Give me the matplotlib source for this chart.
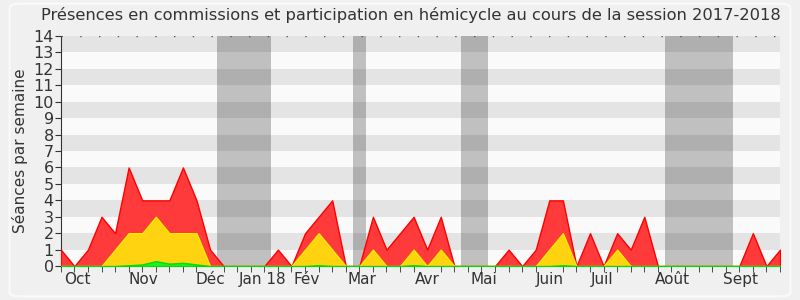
import numpy as np
import matplotlib
matplotlib.use("Agg")
from matplotlib import pyplot as plt
from matplotlib.patches import FancyBboxPatch

# one value per week of the session
total = [1, 0, 1, 3, 2, 6, 4, 4, 4, 6, 4, 1, 0, 0, 0, 0, 1, 0, 2, 3,
         4, 0, 0, 3, 1, 2, 3, 1, 3, 0, 0, 0, 0, 1, 0, 1, 4, 4, 0, 2,
         0, 2, 1, 3, 0, 0, 0, 0, 0, 0, 0, 2, 0, 1]
hemicycle = [0, 0, 0, 0, 1, 2, 2, 3, 2, 2, 2, 0, 0, 0, 0, 0, 0, 0, 1, 2,
             1, 0, 0, 1, 0, 0, 1, 0, 1, 0, 0, 0, 0, 0, 0, 0, 1, 2, 0, 0,
             0, 1, 0, 0, 0, 0, 0, 0, 0, 0, 0, 0, 0, 0]
commission = [0, 0, 0, 0, 0, 0.05, 0.1, 0.3, 0.15, 0.2, 0.1, 0, 0, 0, 0, 0, 0, 0, 0, 0.05,
              0, 0, 0, 0, 0, 0, 0.05, 0, 0, 0, 0, 0, 0, 0, 0, 0, 0, 0.05, 0, 0,
              0, 0, 0, 0, 0, 0, 0, 0, 0, 0, 0, 0, 0, 0]

vacances = [(11.5, 15.5), (21.5, 22.5), (29.5, 31.5), (44.5, 49.5)]
mois = ["Oct", "Nov", "Déc", "Jan 18", "Fév", "Mar", "Avr", "Mai", "Juin", "Juil", "Août", "Sept"]
mois_pos = [1.2, 6.05, 11.0, 14.9, 18.15, 22.2, 27.0, 31.2, 36.0, 39.9, 45.1, 50.1]

weeks = np.arange(len(total))

fig = plt.figure(figsize=(8, 3), dpi=100, facecolor="#f0f0f0")
fig.patches.append(FancyBboxPatch((0.012, 0.012), 0.976, 0.976, boxstyle="round,pad=0,rounding_size=0.015",
                                  transform=fig.transFigure, facecolor="#f0f0f0", edgecolor="#fafafa",
                                  linewidth=1.5, zorder=-1))
ax = fig.add_axes([0.076, 0.113, 0.899, 0.767])
ax.set_facecolor("#fafafa")

for a, b in vacances:
    ax.axvspan(a, b, color="#c0c0c0", zorder=1, linewidth=0)
for y in range(1, 14, 2):
    ax.axhspan(y, y + 1, color="black", alpha=0.085, zorder=2, linewidth=0)

ax.fill_between(weeks, 0, total, facecolor="#ff3a3a", edgecolor="#ff0000", linewidth=1, zorder=3)
ax.fill_between(weeks, 0, hemicycle, facecolor="#ffd30f", edgecolor="#ffee00", linewidth=1, zorder=4)
ax.fill_between(weeks, 0, commission, facecolor="#22ee22", edgecolor="#00dd00", linewidth=1, zorder=5)

ax.set_xlim(0, len(total) - 1)
ax.set_ylim(0, 14)
ax.set_yticks(range(15))
ax.set_xticks(mois_pos)
ax.set_xticklabels(mois)
ax.set_xticks(weeks, minor=True)
ax.tick_params(axis="x", which="major", length=0, labelsize=11, colors="#333333", pad=4)
ax.tick_params(axis="x", which="minor", length=4, direction="out", color="#333333")
ax.tick_params(axis="y", length=4, labelsize=11.5, colors="#333333", pad=1)
ax.axhline(14, color="#555555", linestyle=(0, (1, 12.5)), linewidth=1, zorder=6)

for s in ["top", "right"]:
    ax.spines[s].set_visible(False)
ax.spines["left"].set_color("#333333")
ax.spines["bottom"].set_color("#333333")

ax.set_ylabel("Séances par semaine", fontsize=11, color="#333333", labelpad=4)
fig.text(0.514, 0.95, "Présences en commissions et participation en hémicycle au cours de la session 2017-2018",
         ha="center", va="center", fontsize=11.7, color="#333333")

fig.savefig("out.png", dpi=100, facecolor=fig.get_facecolor())
